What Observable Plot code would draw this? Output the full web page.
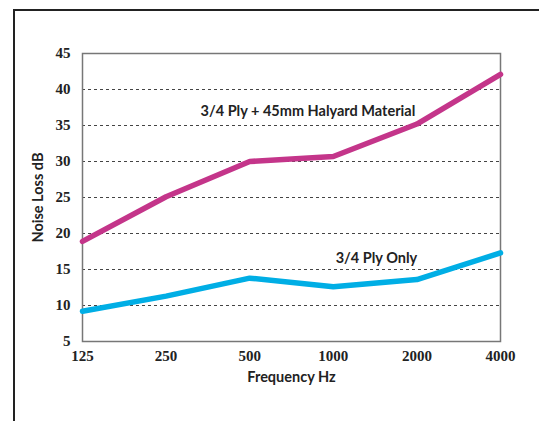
<!DOCTYPE html>
<html>
<head>
<meta charset="utf-8">
<script src="https://cdn.jsdelivr.net/npm/d3@7"></script>
<script src="https://cdn.jsdelivr.net/npm/@observablehq/plot@0.6"></script>
<style>
  html, body { margin: 0; padding: 0; background: #fff; }
  #wrap { position: relative; width: 539px; height: 421px; overflow: hidden; }
  #border { position: absolute; left: 13px; top: 9px; width: 600px; height: 500px;
            border-left: 2px solid #222; border-top: 2px solid #222; }
  #chart { position: absolute; left: 0; top: 0; }
</style>
</head>
<body>
<div id="wrap"><div id="border"></div><div id="chart"></div></div>
<script>
const frequencies = [125, 250, 500, 1000, 2000, 4000];
const halyardValues = [18.9, 25.1, 30.0, 30.7, 35.2, 42.1];
const plyOnlyValues = [9.2, 11.3, 13.8, 12.6, 13.6, 17.3];
const yTicks = [5, 10, 15, 20, 25, 30, 35, 40, 45];
const gridValues = [10, 15, 20, 25, 30, 35, 40];
const seriesLabels = ["3/4 Ply + 45mm Halyard Material", "3/4 Ply Only"];

const halyard = frequencies.map((f, i) => ({f, v: halyardValues[i]}));
const plyOnly = frequencies.map((f, i) => ({f, v: plyOnlyValues[i]}));
const labels = [
  {f: 810, v: 37.0, text: seriesLabels[0]},
  {f: 1430, v: 16.5, text: seriesLabels[1]}
];

const tickFont = "'Liberation Serif', 'DejaVu Serif', serif";
const labelFont = "Lato, 'Open Sans', sans-serif";

const chart = Plot.plot({
  width: 539,
  height: 421,
  marginLeft: 82,
  marginRight: 39,
  marginTop: 53,
  marginBottom: 80,
  style: {fontFamily: tickFont, fontSize: "15px", fontWeight: "bold", color: "#222", background: "transparent"},
  x: {type: "log", base: 2, domain: [125, 4000], ticks: frequencies, tickFormat: d => String(d), tickSize: 0, tickPadding: 8, label: null},
  y: {domain: [5, 45], ticks: yTicks, tickSize: 0, tickPadding: 12, label: null},
  marks: [
    Plot.ruleY(gridValues, {stroke: "#444", strokeWidth: 1, strokeDasharray: "3,3"}),
    Plot.frame({stroke: "#777", strokeWidth: 1.5}),
    Plot.line(halyard, {x: "f", y: "v", stroke: "#c4358a", strokeWidth: 5.5, strokeLinecap: "round", strokeLinejoin: "miter"}),
    Plot.line(plyOnly, {x: "f", y: "v", stroke: "#00aee5", strokeWidth: 5.5, strokeLinecap: "round", strokeLinejoin: "miter"}),
    Plot.text(labels, {x: "f", y: "v", text: "text", fontFamily: labelFont, fontWeight: "bold", fontSize: 14.5, fill: "#222", textAnchor: "middle"}),
    Plot.axisX({ticks: frequencies, tickFormat: d => String(d), tickSize: 0, tickPadding: 9, fontSize: 15, label: "Frequency Hz", labelAnchor: "center", labelArrow: "none", labelOffset: 40, fontFamily: tickFont}),
    Plot.axisY({ticks: yTicks, tickSize: 0, tickPadding: 12, fontSize: 15, label: "Noise Loss dB", labelAnchor: "center", labelArrow: "none", labelOffset: 50})
  ]
});
document.getElementById("chart").appendChild(chart);
// label fonts for axis titles
d3.select(chart).selectAll("[aria-label='x-axis label'] text, [aria-label='y-axis label'] text")
  .attr("font-family", labelFont).attr("font-size", 14.5);
</script>
</body>
</html>
